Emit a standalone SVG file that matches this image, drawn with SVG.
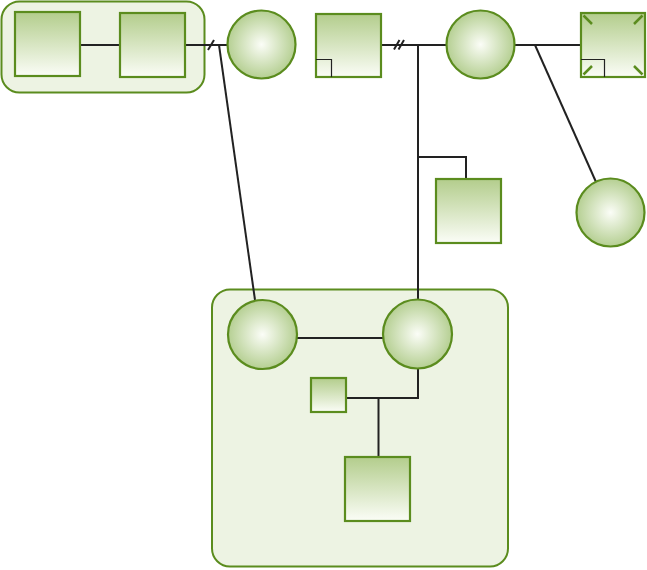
<svg xmlns="http://www.w3.org/2000/svg" width="647" height="570" viewBox="0 0 647 570">
<defs>
<linearGradient id="sq" x1="0" y1="0" x2="0" y2="1">
<stop offset="0" stop-color="#b3cd8c"/>
<stop offset="1" stop-color="#fbfdf7"/>
</linearGradient>
<radialGradient id="ci" cx="0.5" cy="0.5" r="0.5">
<stop offset="0" stop-color="#fbfdf7"/>
<stop offset="1" stop-color="#b5cf92"/>
</radialGradient>
<style>
.grp{fill:#edf3e3;stroke:#5b8c1e;stroke-width:2}
.sq{fill:url(#sq);stroke:#5b8c1e;stroke-width:2.2}
.ci{fill:url(#ci);stroke:#5b8c1e;stroke-width:2.2}
.ln{fill:none;stroke:#222;stroke-width:2}
.mk{fill:none;stroke:#222;stroke-width:1.2}
.cm{fill:none;stroke:#5b8c1e;stroke-width:2.5}
</style>
</defs>
<g id="group-top"><rect class="grp" x="1.5" y="1.5" width="203" height="91" rx="18"/></g>
<g id="group-bottom"><rect class="grp" x="212" y="289.5" width="296" height="277" rx="18"/></g>
<g id="connectors">
<path class="ln" d="M80,45 H120"/>
<path class="ln" d="M185,45 H227"/>
<path class="ln" d="M208,50 L214,40"/>
<path class="ln" d="M219,45 L255,300"/>
<path class="ln" d="M381,45 H446"/>
<path class="ln" d="M394,49.5 L399.5,40 M398.5,49.5 L404,40"/>
<path class="ln" d="M418,45 V300"/>
<path class="ln" d="M418,157 H466 V179"/>
<path class="ln" d="M514,45 H581"/>
<path class="ln" d="M535,45 L596,182"/>
<path class="ln" d="M296,338 H383"/>
<path class="ln" d="M418,369 V398 H346"/>
<path class="ln" d="M378.5,398 V457"/>
</g>
<g id="n1"><rect class="sq" x="15" y="12" width="65" height="64"/></g>
<g id="n2"><rect class="sq" x="120" y="13" width="65" height="64"/></g>
<g id="n3"><circle class="ci" cx="261.5" cy="44.5" r="34"/></g>
<g id="n4"><rect class="sq" x="316" y="14" width="65" height="63"/><path class="mk" d="M316,59.5 H331.5 V77"/></g>
<g id="n5"><circle class="ci" cx="480.5" cy="44.5" r="34"/></g>
<g id="n6"><rect class="sq" x="581" y="13" width="64" height="64"/><path class="mk" d="M581,59.5 H604.5 V77"/><path class="cm" d="M583.5,15.5 L592,24 M642.5,15.5 L634,24 M583.5,74.5 L592,66 M642.5,74.5 L634,66"/></g>
<g id="n7"><circle class="ci" cx="610.5" cy="212.5" r="34"/></g>
<g id="n8"><rect class="sq" x="436" y="179" width="65" height="64"/></g>
<g id="n9"><circle class="ci" cx="262.5" cy="334.5" r="34.5"/></g>
<g id="n10"><circle class="ci" cx="417.5" cy="334" r="34.5"/></g>
<g id="n11"><rect class="sq" x="311" y="378" width="35" height="34"/></g>
<g id="n12"><rect class="sq" x="345" y="457" width="65" height="64"/></g>
</svg>
